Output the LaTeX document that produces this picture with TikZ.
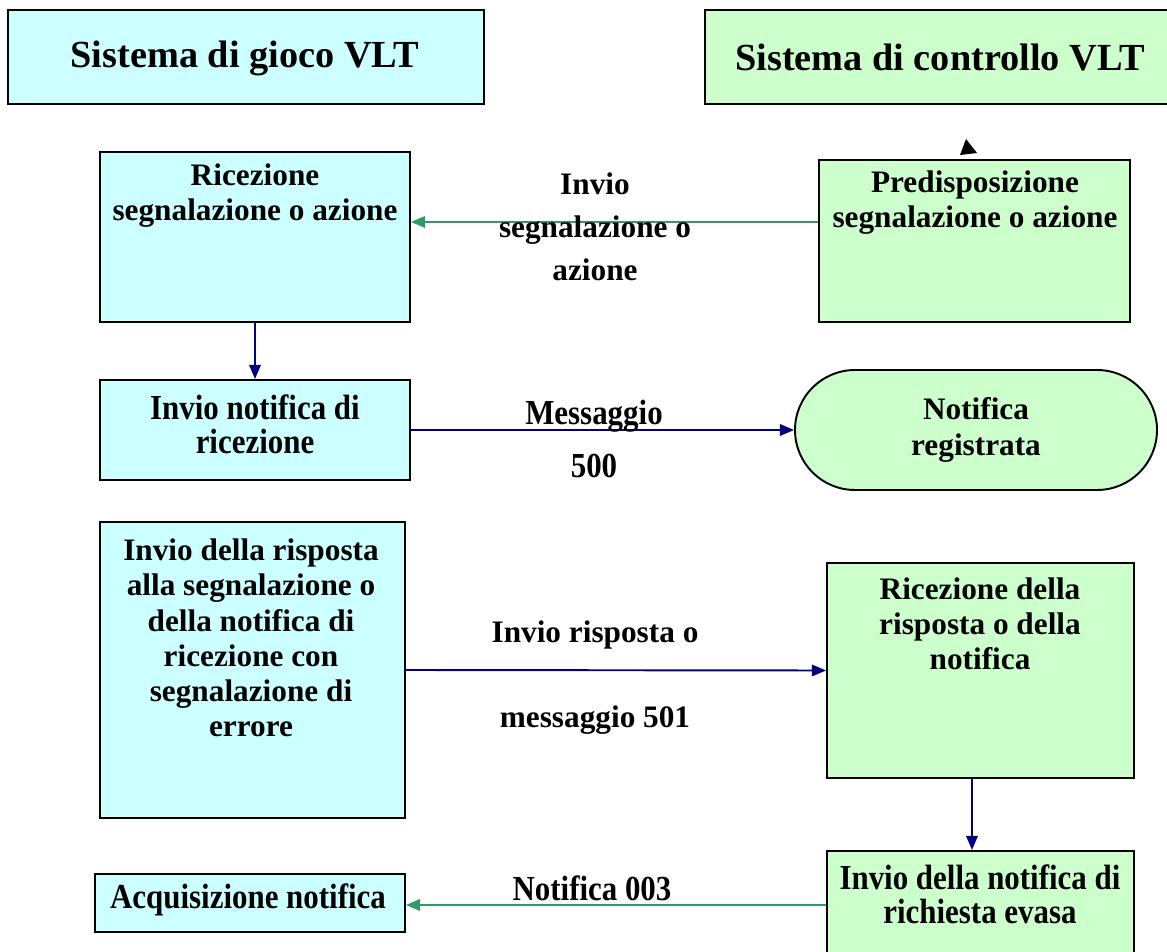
\documentclass[tikz,border=0pt]{standalone}
\usepackage{fontspec}
\setmainfont{Liberation Serif}
\newfontfamily\narrowserif[FakeStretch=0.88]{Liberation Serif}
\usetikzlibrary{arrows.meta,fit}

\definecolor{gamecyan}{HTML}{CCFFFF}
\definecolor{ctrlgreen}{HTML}{CCFFCC}
\definecolor{navyline}{HTML}{000080}
\definecolor{seagreen}{HTML}{339966}

\tikzset{
  gamebox/.style={draw, line width=1.1pt, fill=gamecyan, inner sep=0pt},
  ctrlbox/.style={draw, line width=1.1pt, fill=ctrlgreen, inner sep=0pt},
  titletxt/.style={font=\bfseries\fontsize{21.8}{25}\selectfont, inner sep=0pt},
  boldtxt/.style={font=\bfseries\fontsize{17.8}{20}\selectfont, align=center, inner sep=0pt},
  plaintxt/.style={font=\narrowserif\bfseries\fontsize{20}{19.5}\selectfont, align=center, inner sep=0pt},
  bluearrow/.style={draw=navyline, line width=1.1pt, -{Triangle[length=8pt,width=6.5pt]}},
  greenarrow/.style={draw=seagreen, line width=1.1pt, -{Triangle[length=8pt,width=6.5pt]}}
}

\begin{document}
\begin{tikzpicture}[x=0.02cm, y=-0.02cm]

\useasboundingbox (0,0) rectangle (1167,952);
\clip (0,0) rectangle (1167,952);

% headers
\node[gamebox, fit={(8,10) (484,104)}] (gioco) {};
\node[titletxt] (giocoT) at (245,58) {Sistema di gioco VLT};
\node[ctrlbox, fit={(705,10) (1176,104)}] (ctrl) {};
\node[titletxt] (ctrlT) at (940,58) {Sistema di controllo VLT};
\fill (960,155) -- (966,139) -- (977,153) -- cycle;

% first exchange
\node[gamebox, fit={(100,152) (410,322)}] (ric) {};
\node[boldtxt] (ricT) at (255,196) {Ricezione\\segnalazione o azione};
\node[ctrlbox, fit={(819,160) (1130,322)}] (pred) {};
\node[boldtxt] (predT) at (975,203) {Predisposizione\\segnalazione o azione};
\draw[greenarrow] (pred.west |- 0,222) -- (ric.east |- 0,222);
\node[boldtxt, font=\bfseries\fontsize{17.8}{24.5}\selectfont] (invioL) at (595,227) {Invio\\segnalazione o\\azione};

% notification
\node[gamebox, fit={(100,380) (410,480)}] (notif) {};
\node[plaintxt] (notifT) at (255,424) {Invio notifica di\\ricezione};
\draw[bluearrow] (ric.south) -- (notif.north);
\node[ctrlbox, rounded corners=1.2cm, fit={(795,370) (1157,490)}] (reg) {};
\node[boldtxt] (regT) at (976,430) {Notifica\\registrata};
\draw[bluearrow] (notif.east) -- (reg.west);
\node[plaintxt] (msgA) at (594,416) {Messaggio};
\node[plaintxt] (msgB) at (594,466) {500};

% answer
\node[gamebox, fit={(100,522) (405,818)}] (risp) {};
\node[boldtxt] (rispT) at (251,638) {Invio della risposta\\alla segnalazione o\\della notifica di\\ricezione con\\segnalazione di\\errore};
\node[ctrlbox, fit={(827,563) (1134,778)}] (ricr) {};
\node[boldtxt] (ricrT) at (980,624) {Ricezione della\\risposta o della\\notifica};
\draw[bluearrow] (risp.east) -- (ricr.west);
\node[boldtxt] (rispA) at (595,635) {Invio risposta o};
\node[boldtxt] (rispB) at (595,720) {messaggio 501};

% closing
\node[ctrlbox, fit={(827,851) (1134,962)}] (evasa) {};
\node[plaintxt] (evasaT) at (980,894) {Invio della notifica di\\richiesta evasa};
\draw[bluearrow] (ricr.south -| 972,0) -- (evasa.north -| 972,0);
\node[gamebox, fit={(95,874) (405,932)}] (acq) {};
\node[plaintxt] (acqT) at (248,900) {Acquisizione notifica};
\draw[greenarrow] (evasa.west |- 0,905) -- (acq.east |- 0,905);
\node[plaintxt] (n003) at (592,888) {Notifica 003};

\end{tikzpicture}
\end{document}
